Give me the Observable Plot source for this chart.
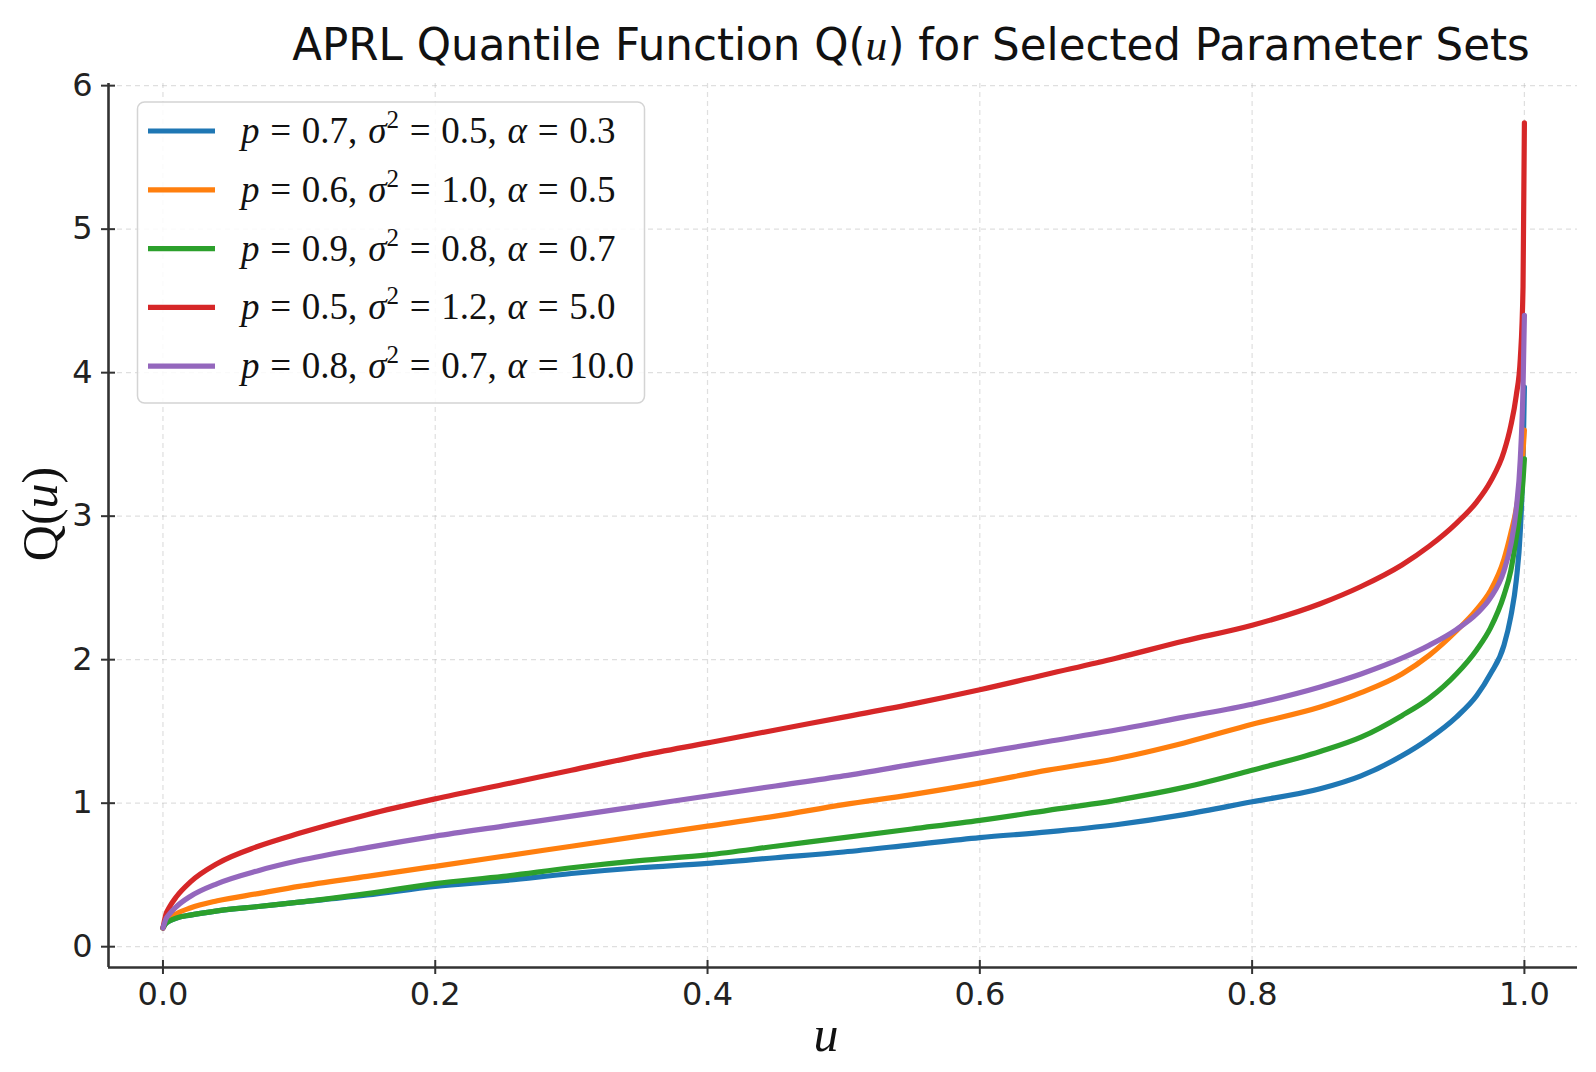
<!DOCTYPE html>
<html><head><meta charset="utf-8">
<script src="https://cdn.jsdelivr.net/npm/d3@7"></script>
<script src="https://cdn.jsdelivr.net/npm/@observablehq/plot@0.6"></script>
<style>
body{margin:0;background:#fff;}
#wrap{position:relative;width:1596px;height:1072px;overflow:hidden;background:#fff;}
</style></head><body>
<div id="wrap"></div>
<script>
// probability levels u
const uValues = [0, 0.002, 0.005, 0.01, 0.02, 0.04, 0.07, 0.1, 0.15, 0.2, 0.25, 0.3, 0.35, 0.4, 0.45, 0.5, 0.55, 0.6, 0.65, 0.7, 0.75, 0.8, 0.85, 0.88, 0.91, 0.93, 0.95, 0.965, 0.975, 0.985, 0.99, 0.994, 0.997, 0.999, 1.0];
// Q(u) for each parameter set
const qSet1 = [0.13, 0.16, 0.18, 0.20, 0.22, 0.25, 0.28, 0.31, 0.36, 0.42, 0.46, 0.51, 0.55, 0.58, 0.62, 0.66, 0.71, 0.76, 0.80, 0.85, 0.92, 1.01, 1.10, 1.19, 1.33, 1.45, 1.60, 1.75, 1.90, 2.10, 2.30, 2.55, 2.90, 3.40, 3.90];
const qSet2 = [0.13, 0.17, 0.20, 0.23, 0.27, 0.32, 0.37, 0.42, 0.49, 0.56, 0.63, 0.70, 0.77, 0.84, 0.91, 0.99, 1.06, 1.14, 1.23, 1.31, 1.42, 1.55, 1.67, 1.77, 1.90, 2.03, 2.20, 2.35, 2.48, 2.70, 2.88, 3.05, 3.25, 3.45, 3.60];
const qSet3 = [0.13, 0.16, 0.18, 0.20, 0.22, 0.25, 0.28, 0.31, 0.37, 0.44, 0.49, 0.55, 0.60, 0.64, 0.70, 0.76, 0.82, 0.88, 0.95, 1.02, 1.11, 1.23, 1.36, 1.46, 1.61, 1.73, 1.90, 2.07, 2.22, 2.45, 2.62, 2.85, 3.05, 3.25, 3.40];
const qSet4 = [0.13, 0.22, 0.28, 0.35, 0.45, 0.58, 0.70, 0.79, 0.92, 1.03, 1.13, 1.23, 1.33, 1.42, 1.51, 1.60, 1.69, 1.79, 1.90, 2.01, 2.13, 2.24, 2.39, 2.51, 2.66, 2.79, 2.95, 3.10, 3.24, 3.45, 3.63, 3.84, 4.10, 4.60, 5.74];
const qSet5 = [0.13, 0.19, 0.23, 0.28, 0.35, 0.44, 0.53, 0.60, 0.69, 0.77, 0.84, 0.91, 0.98, 1.05, 1.12, 1.19, 1.27, 1.35, 1.43, 1.51, 1.60, 1.69, 1.81, 1.90, 2.01, 2.10, 2.21, 2.32, 2.43, 2.62, 2.80, 3.05, 3.40, 3.90, 4.40];

const seriesNames = ["set1", "set2", "set3", "set4", "set5"];
const seriesP = ["0.7", "0.6", "0.9", "0.5", "0.8"];
const seriesSigma2 = ["0.5", "1.0", "0.8", "1.2", "0.7"];
const seriesAlpha = ["0.3", "0.5", "0.7", "5.0", "10.0"];
const seriesColors = ["#1f77b4", "#ff7f0e", "#2ca02c", "#d62728", "#9467bd"];
const xTicks = [0, 0.2, 0.4, 0.6, 0.8, 1.0];
const yTicks = [0, 1, 2, 3, 4, 5, 6];
const xDomain = [-0.04, 1.039];
const yDomain = [-0.145, 6.015];

const seriesValues = [qSet1, qSet2, qSet3, qSet4, qSet5];
const data = seriesValues.flatMap((vals, i) => vals.map((q, j) => ({u: uValues[j], q, s: seriesNames[i]})));

const gridStyle = {stroke: "#b8b8b8", strokeOpacity: 0.45, strokeDasharray: "5,4", strokeWidth: 1.2};

const svg = Plot.plot({
  width: 1596, height: 1072,
  marginLeft: 108, marginRight: 19, marginTop: 83, marginBottom: 105,
  style: {fontFamily: "DejaVu Sans", fontSize: "32px", color: "#222", background: "#fff"},
  x: {domain: xDomain},
  y: {domain: yDomain},
  color: {domain: seriesNames, range: seriesColors},
  marks: [
    Plot.gridX(xTicks, gridStyle),
    Plot.gridY(yTicks, gridStyle),
    Plot.line(data, {x: "u", y: "q", stroke: "s", strokeWidth: 5.2, curve: "monotone-x"}),
    Plot.ruleX([xDomain[0]], {stroke: "#333", strokeWidth: 2.6}),
    Plot.ruleY([yDomain[0]], {stroke: "#333", strokeWidth: 2.6}),
    Plot.axisX(xTicks, {tickSize: 14, dy: -7, tickFormat: () => "", stroke: "#333", strokeWidth: 2, label: null}),
    Plot.axisX(xTicks, {tickSize: 0, tickPadding: 15, tickFormat: d => d.toFixed(1), label: null}),
    Plot.axisY(yTicks, {tickSize: 14, dx: 7, tickFormat: () => "", stroke: "#333", strokeWidth: 2, label: null}),
    Plot.axisY(yTicks, {tickSize: 0, tickPadding: 16, tickFormat: d => String(d), label: null})
  ]
});
document.getElementById("wrap").appendChild(svg);

const s = d3.select(svg);
// title
const title = s.append("text").attr("x", 911).attr("y", 60).attr("text-anchor", "middle")
  .attr("font-family", "DejaVu Sans").attr("font-size", 43.6).attr("fill", "#111");
title.append("tspan").text("APRL Quantile Function Q(");
title.append("tspan").attr("font-family", "Liberation Serif").attr("font-style", "italic").text("u");
title.append("tspan").text(") for Selected Parameter Sets");

// y label
const yl = s.append("text").attr("transform", "translate(57,514) rotate(-90)").attr("text-anchor", "middle")
  .attr("font-family", "Liberation Serif").attr("font-size", 50).attr("fill", "#111");
yl.append("tspan").text("Q(");
yl.append("tspan").attr("font-style", "italic").text("u");
yl.append("tspan").text(")");

// x label
s.append("text").attr("x", 826).attr("y", 1051).attr("text-anchor", "middle")
  .attr("font-family", "Liberation Serif").attr("font-style", "italic").attr("font-size", 50).attr("fill", "#111").text("u");

// legend
const lg = s.append("g").attr("text-anchor", "start");
lg.append("rect").attr("x", 137.5).attr("y", 102).attr("width", 507).attr("height", 301).attr("rx", 7)
  .attr("fill", "#fff").attr("fill-opacity", 0.85).attr("stroke", "#d4d4d4").attr("stroke-width", 1.5);
seriesNames.forEach((name, i) => {
  const cy = 131 + i * 58.8;
  lg.append("line").attr("x1", 148).attr("x2", 215).attr("y1", cy).attr("y2", cy)
    .attr("stroke", seriesColors[i]).attr("stroke-width", 5.2);
  const t = lg.append("text").attr("x", 241).attr("y", cy + 12).attr("text-anchor", "start")
    .attr("word-spacing", 1.5)
    .attr("font-family", "Liberation Serif").attr("font-size", 37).attr("fill", "#111");
  t.append("tspan").attr("font-style", "italic").text("p");
  t.append("tspan").text(" = " + seriesP[i] + ", ");
  t.append("tspan").attr("font-style", "italic").text("σ");
  t.append("tspan").attr("font-size", 25).attr("dy", -15).text("2");
  t.append("tspan").attr("dy", 15).text(" = " + seriesSigma2[i] + ", ");
  t.append("tspan").attr("font-style", "italic").text("α");
  t.append("tspan").text(" = " + seriesAlpha[i]);
});
</script>
</body></html>
